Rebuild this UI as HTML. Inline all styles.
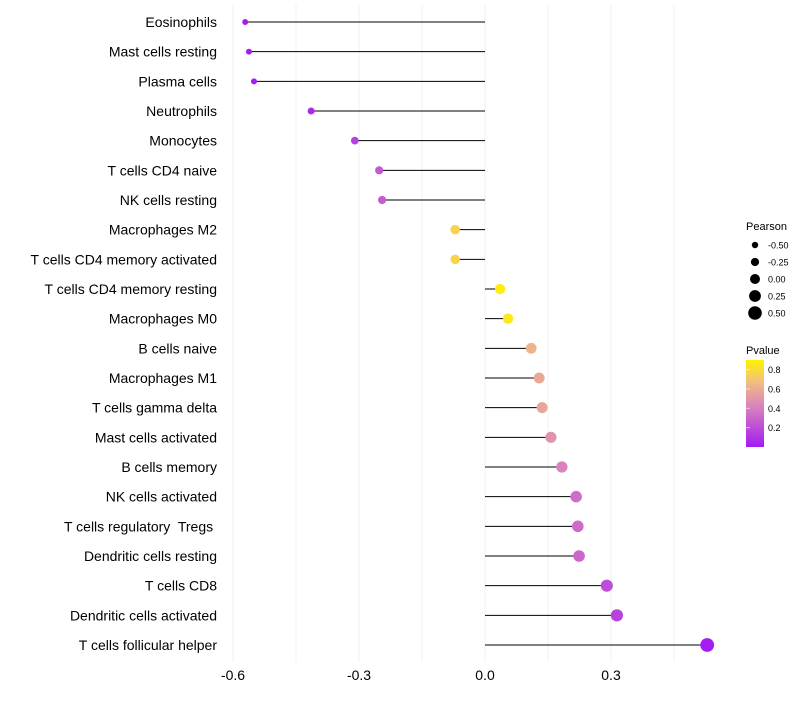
<!DOCTYPE html>
<html><head><meta charset="utf-8"><style>
body{margin:0;background:#fff;font-family:"Liberation Sans",sans-serif}
svg text{font-family:"Liberation Sans",sans-serif;white-space:pre}
</style></head><body>
<svg id="chart" width="800" height="700" xmlns="http://www.w3.org/2000/svg">
<g id="grid"></g>
<g id="marks"></g>
<g id="ylabels"></g>
<g id="xlabels"></g>
<g id="legend">
<text x="746" y="230" font-size="11">Pearson</text>
<text x="746" y="354" font-size="11">Pvalue</text>
<defs><linearGradient id="pg" x1="0" y1="1" x2="0" y2="0">
<stop offset="0" stop-color="#A31AF2"/><stop offset="0.45" stop-color="#D87FC0"/><stop offset="0.75" stop-color="#F3BE80"/><stop offset="1" stop-color="#FFF200"/></linearGradient></defs>
<rect x="746" y="360" width="18" height="87" fill="url(#pg)"/>
</g>
</svg>
<script>
const categories=["Eosinophils","Mast cells resting","Plasma cells","Neutrophils","Monocytes","T cells CD4 naive","NK cells resting","Macrophages M2","T cells CD4 memory activated","T cells CD4 memory resting","Macrophages M0","B cells naive","Macrophages M1","T cells gamma delta","Mast cells activated","B cells memory","NK cells activated","T cells regulatory  Tregs ","Dendritic cells resting","T cells CD8","Dendritic cells activated","T cells follicular helper"];
const pearson=[-0.571,-0.562,-0.55,-0.414,-0.31,-0.252,-0.245,-0.071,-0.071,0.036,0.055,0.11,0.129,0.136,0.157,0.183,0.217,0.221,0.224,0.29,0.314,0.529];
const pvalue=[0.01,0.01,0.01,0.06,0.15,0.25,0.26,0.78,0.78,0.88,0.86,0.65,0.6,0.58,0.5,0.42,0.33,0.32,0.31,0.2,0.16,0.01];
const xTicks=[-0.6,-0.3,0.0,0.3];
const xTickLabels=["-0.6","-0.3","0.0","0.3"];
const sizeLegend=[-0.5,-0.25,0,0.25,0.5];
const sizeLegendLabels=["-0.50","-0.25","0.00","0.25","0.50"];
const pTicks=[0.2,0.4,0.6,0.8];
const pTickLabels=["0.2","0.4","0.6","0.8"];

const NS="http://www.w3.org/2000/svg";
const x=v=>485+v*420;
const y=i=>22+i*(623/21);
const r=v=>5+3.6*v;
const py=v=>447-v*96.7;
const stops=[[0,[163,26,242]],[0.4,[216,127,192]],[0.7,[243,190,128]],[0.9,[255,242,0]]];
function col(p){
  if(p<=stops[0][0])return `rgb(${stops[0][1]})`;
  for(let k=1;k<stops.length;k++){if(p<=stops[k][0]){const a=stops[k-1],b=stops[k],t=(p-a[0])/(b[0]-a[0]);return `rgb(${a[1].map((c,j)=>Math.round(c+(b[1][j]-c)*t))})`;}}
  return `rgb(${stops[stops.length-1][1]})`;
}
function mk(tag,attrs,parent){const e=document.createElementNS(NS,tag);for(const k in attrs)e.setAttribute(k,attrs[k]);document.getElementById(parent).appendChild(e);return e;}
for(let g=-0.6;g<=0.46;g+=0.15){
  const l=mk('line',{x1:x(g),x2:x(g),y1:5,y2:662,stroke:'#f2f2f2','stroke-width':1},'grid');
  
  
}
categories.forEach((c,i)=>{
  const l=mk('line',{x1:x(0),x2:x(pearson[i]),y1:y(i),y2:y(i),stroke:'#000','stroke-width':1},'marks');
  
  
  const d=mk('circle',{cx:x(pearson[i]),cy:y(i),r:r(pearson[i]),fill:col(pvalue[i])},'marks');
  
  
  const t=mk('text',{x:217,y:y(i)+5,'text-anchor':'end','font-size':14,fill:'#000'},'ylabels');
  t.textContent=c;
  
  
});
xTicks.forEach((v,i)=>{
  const t=mk('text',{x:x(v),y:680,'text-anchor':'middle','font-size':14,fill:'#000'},'xlabels');
  t.textContent=xTickLabels[i];
  
  
});
sizeLegend.forEach((v,i)=>{
  const cy=245+i*17;
  const c=mk('circle',{cx:755,cy:cy,r:r(v),fill:'#000'},'legend');
  
  
  const t=mk('text',{x:768,y:cy+3.5,'font-size':9},'legend');
  t.textContent=sizeLegendLabels[i];
  
  
});
pTicks.forEach((v,i)=>{
  const t=mk('text',{x:768,y:py(v)+3.5,'font-size':9},'legend');
  t.textContent=pTickLabels[i];
  
  
  const l=mk('line',{x1:746,x2:750,y1:py(v),y2:py(v),stroke:'#fff','stroke-opacity':0.6},'legend');
  
  
});
</script>
</body></html>
